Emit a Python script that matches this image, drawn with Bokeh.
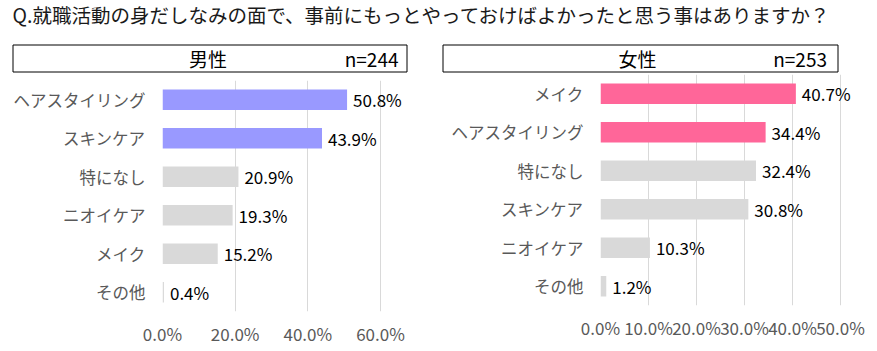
from bokeh.plotting import figure
from bokeh.layouts import column, row
from bokeh.models import ColumnDataSource, FactorRange, Range1d, FixedTicker, PrintfTickFormatter, LabelSet
from bokeh.core.properties import value
from bokeh.embed import file_html
from bokeh.resources import INLINE

# ---------------- data ----------------
title_text = "Q.就職活動の身だしなみの面で、事前にもっとやっておけばよかったと思う事はありますか？"
groups = ["男性", "女性"]
n_values = [244, 253]

male_categories = ["ヘアスタイリング", "スキンケア", "特になし", "ニオイケア", "メイク", "その他"]
male_values = [50.8, 43.9, 20.9, 19.3, 15.2, 0.4]

female_categories = ["メイク", "ヘアスタイリング", "特になし", "スキンケア", "ニオイケア", "その他"]
female_values = [40.7, 34.4, 32.4, 30.8, 10.3, 1.2]

male_ticks = [0, 20, 40, 60]
female_ticks = [0, 10, 20, 30, 40, 50]

# ---------------- style ----------------
FONT = "Noto Sans CJK JP"
GREY_BAR = "#D9D9D9"
LABEL_GREY = "#595959"
MALE_COLOR = "#9999FF"
FEMALE_COLOR = "#FF6699"
N_HIGHLIGHT = 2

# ---------------- header (title + group boxes) ----------------
h = figure(width=877, height=74, x_range=Range1d(0, 877), y_range=Range1d(74, 0),
           output_backend="svg", toolbar_location=None,
           x_axis_location=None, y_axis_location=None, min_border=0)
h.grid.visible = False
h.outline_line_color = None
h.text(x=[12], y=[14], text=[title_text], text_font=value(FONT), text_font_size="19.5px",
       text_color="#1a1a1a", text_baseline="middle", text_align="left")
h.quad(left=[12.5, 442.5], right=[406.5, 837.5], top=[44.5, 44.5], bottom=[71.5, 71.5],
       fill_color="white", line_color="black", line_width=1)
h.text(x=[207.5, 637], y=[58, 58], text=groups, text_font=value(FONT), text_font_size="19px",
       text_color="black", text_baseline="middle", text_align="center")
h.text(x=[398, 826.5], y=[58, 58], text=[f"n={n}" for n in n_values], text_font=value(FONT),
       text_font_size="19px", text_color="black", text_baseline="middle", text_align="right")


def panel(cats, vals, hl_color, ticks, tick_px, extra_px, border_left, border_right,
          border_top, border_bottom):
    # tick_px: pixel width from first to last tick; extra_px: room to the right for labels
    colors = [hl_color if i < N_HIGHLIGHT else GREY_BAR for i in range(len(cats))]
    src = ColumnDataSource(dict(cat=cats, val=vals, color=colors,
                                label=[f"{v:.1f}%" for v in vals]))
    frame_w = tick_px + extra_px
    x_end = ticks[-1] * frame_w / tick_px
    p = figure(y_range=FactorRange(factors=cats[::-1]), x_range=Range1d(ticks[0], x_end),
               frame_width=frame_w, frame_height=231,
               min_border_left=border_left, min_border_right=border_right,
               min_border_top=border_top, min_border_bottom=border_bottom,
               output_backend="svg", toolbar_location=None, frame_align=False)
    p.hbar(y="cat", left=0, right="val", height=0.53, fill_color="color", line_color=None, source=src)
    labels = LabelSet(x="val", y="cat", text="label", x_offset=6, text_baseline="middle",
                      text_align="left", text_font=value(FONT), text_font_size="17px",
                      text_color="black", source=src)
    p.add_layout(labels)
    p.xaxis.ticker = FixedTicker(ticks=ticks)
    p.xaxis.formatter = PrintfTickFormatter(format="%.1f%%")
    for ax in (p.xaxis, p.yaxis):
        ax.axis_line_color = None
        ax.major_tick_line_color = None
        ax.minor_tick_line_color = None
        ax.major_tick_out = 0
        ax.major_tick_in = 0
        ax.major_label_text_font = FONT
        ax.major_label_text_color = LABEL_GREY
    p.xaxis.major_label_text_font_size = "17px"
    p.yaxis.major_label_text_font_size = "16.5px"
    p.xaxis.major_label_standoff = 9
    p.yaxis.major_label_standoff = 17
    p.xgrid.grid_line_color = GREY_BAR
    p.xgrid.grid_line_width = 1
    p.ygrid.grid_line_color = None
    p.outline_line_color = None
    return p


left = panel(male_categories, male_values, MALE_COLOR, male_ticks, 218, 40, 162, 10, 6, 40)
right = panel(female_categories, female_values, FEMALE_COLOR, female_ticks, 240, 30, 170, 7, 0, 46)

layout = column(h, row(left, right))
open("out.html", "w").write(file_html(layout, INLINE))
